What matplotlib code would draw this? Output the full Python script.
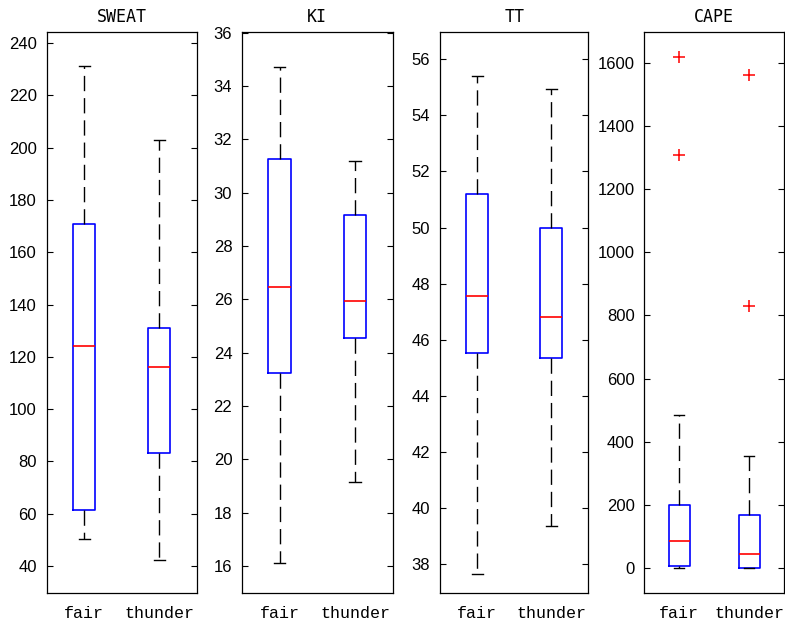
import matplotlib
matplotlib.use("Agg")
import matplotlib.pyplot as plt
import numpy as np

groups = ["fair", "thunder"]
titles = ["SWEAT", "KI", "TT", "CAPE"]

# box statistics per index, [fair, thunder]
sweat_lo = [50.4, 42.4]
sweat_q1 = [61.5, 83.1]
sweat_med = [124.1, 116.3]
sweat_q3 = [170.8, 131.1]
sweat_hi = [231.3, 202.8]
sweat_out = [[], []]

ki_lo = [16.1, 19.16]
ki_q1 = [23.24, 24.57]
ki_med = [26.45, 25.93]
ki_q3 = [31.28, 29.18]
ki_hi = [34.72, 31.21]
ki_out = [[], []]

tt_lo = [37.67, 39.36]
tt_q1 = [45.55, 45.37]
tt_med = [47.57, 46.83]
tt_q3 = [51.2, 50.0]
tt_hi = [55.39, 54.94]
tt_out = [[], []]

cape_lo = [0, 0]
cape_q1 = [6, 0]
cape_med = [86, 44]
cape_q3 = [200, 168]
cape_hi = [486, 354]
cape_out = [[1621, 1308], [1563, 831]]

ylims = [(29.6, 244.2), (14.98, 36.03), (36.97, 56.97), (-81, 1699)]
yticks = [np.arange(40, 241, 20), np.arange(16, 37, 2),
          np.arange(38, 57, 2), np.arange(0, 1601, 200)]

stats_all = [
    (sweat_lo, sweat_q1, sweat_med, sweat_q3, sweat_hi, sweat_out),
    (ki_lo, ki_q1, ki_med, ki_q3, ki_hi, ki_out),
    (tt_lo, tt_q1, tt_med, tt_q3, tt_hi, tt_out),
    (cape_lo, cape_q1, cape_med, cape_q3, cape_hi, cape_out),
]

W, H = 785, 624
# axes boxes in pixels: left, right
px = [(46.7, 196.7), (242, 392.7), (440, 588.3), (644.3, 784)]
top, bot = 32, 593.3

fig = plt.figure(figsize=(W / 100, H / 100), dpi=100)
fig.patch.set_facecolor("white")

for i in range(4):
    l, r = px[i]
    ax = fig.add_axes([l / W, 1 - bot / H, (r - l) / W, (bot - top) / H])
    lo, q1, med, q3, hi, out = stats_all[i]
    bstats = []
    for j in range(2):
        bstats.append(dict(label=groups[j], whislo=lo[j], q1=q1[j], med=med[j],
                           q3=q3[j], whishi=hi[j], fliers=out[j]))
    ax.bxp(bstats, positions=[1, 2], widths=0.3, capwidths=0.15,
           boxprops=dict(color="blue", lw=1.2),
           medianprops=dict(color="red", lw=1.2),
           whiskerprops=dict(color="black", lw=1.0, linestyle=(0, (11, 5))),
           capprops=dict(color="black", lw=1.0),
           flierprops=dict(marker="+", markeredgecolor="red", markersize=9,
                           markeredgewidth=1.1, linestyle="none"))
    ax.set_xlim(0.5, 2.5)
    ax.set_ylim(*ylims[i])
    ax.set_yticks(yticks[i])
    ax.set_xticks([1, 2])
    ax.set_xticklabels(groups, family="Liberation Mono", fontsize=12)
    ax.tick_params(axis="x", length=0, pad=9)
    ax.tick_params(axis="y", direction="in", length=4, width=0.8, right=True,
                   labelsize=12, pad=7)
    for t in ax.get_yticklabels():
        t.set_family("Liberation Sans")
    for s in ax.spines.values():
        s.set_linewidth(0.9)
    ax.set_title(titles[i], family="DejaVu Sans Mono", fontsize=12, pad=7)

fig.savefig("out.png", dpi=100)
